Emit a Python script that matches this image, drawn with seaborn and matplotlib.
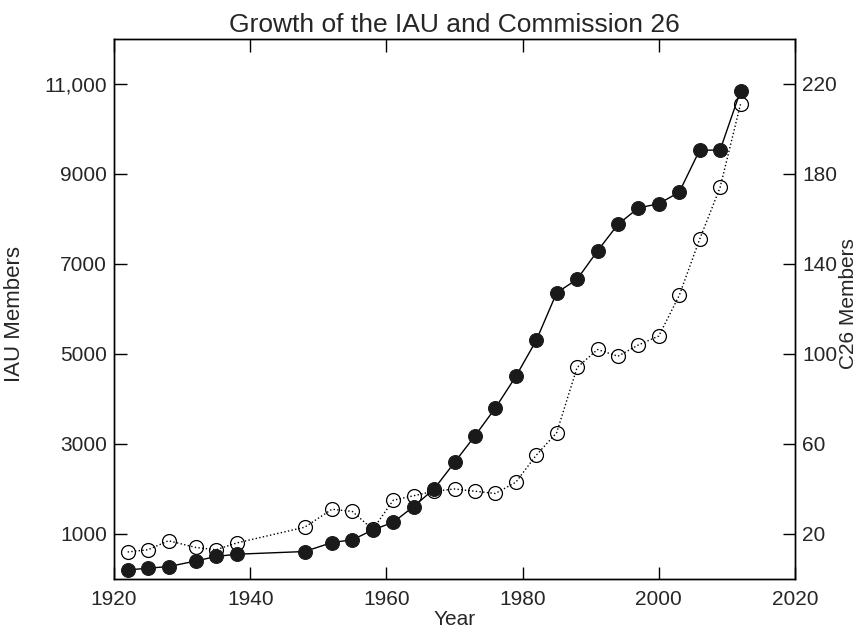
import matplotlib

matplotlib.use("Agg")
import matplotlib.pyplot as plt
import seaborn as sns

# IAU General Assembly years
years = [1922, 1925, 1928, 1932, 1935, 1938, 1948, 1952, 1955, 1958,
         1961, 1964, 1967, 1970, 1973, 1976, 1979, 1982, 1985, 1988,
         1991, 1994, 1997, 2000, 2003, 2006, 2009, 2012]

iau_members = [200, 240, 275, 400, 500, 550, 610, 810, 870, 1090,
               1260, 1610, 2000, 2590, 3180, 3800, 4500, 5300, 6360, 6660,
               7290, 7880, 8245, 8340, 8595, 9530, 9530, 10845]

c26_members = [12, 13, 17, 14, 13, 16, 23, 31, 30, 22,
               35, 37, 39, 40, 39, 38, 43, 55, 65, 94,
               102, 99, 104, 108, 126, 151, 174, 211]

left_ticks = [1000, 3000, 5000, 7000, 9000, 11000]
left_labels = ["1000", "3000", "5000", "7000", "9000", "11,000"]
right_ticks = [20, 60, 100, 140, 180, 220]
x_ticks = [1920, 1940, 1960, 1980, 2000, 2020]

sns.set_style("ticks")
plt.rcParams["font.family"] = ["Liberation Sans", "DejaVu Sans"]
plt.rcParams["axes.linewidth"] = 1.0

fig = plt.figure(figsize=(8.6, 6.32), dpi=100)
ax = fig.add_axes([0.1326, 0.0839, 0.7918, 0.8544])
ax2 = ax.twinx()

# C26 members: open circles, dotted line (right axis)
sns.lineplot(x=years, y=c26_members, ax=ax2, color="k", linestyle=":",
             linewidth=1.0, marker="o", markersize=10,
             markerfacecolor="none", markeredgecolor="k",
             markeredgewidth=0.9)

# IAU members: filled circles, solid line (left axis)
sns.lineplot(x=years, y=iau_members, ax=ax, color="k", linewidth=1.0,
             marker="o", markersize=10, markerfacecolor="#1a1a1a",
             markeredgecolor="#1a1a1a")

# keep the filled markers above the open ones
ax.set_zorder(ax2.get_zorder() + 1)
ax.patch.set_visible(False)

ax.set_xlim(1920, 2020)
ax.set_ylim(0, 12000)
ax2.set_ylim(0, 240)

ax.set_xticks(x_ticks)
ax.set_xticklabels([str(t) for t in x_ticks])
ax.set_yticks(left_ticks)
ax.set_yticklabels(left_labels)
ax2.set_yticks(right_ticks)
ax2.set_yticklabels([str(t) for t in right_ticks])

ax.tick_params(axis="both", direction="in", length=9, width=1,
               labelsize=15, top=True, right=False, pad=8, color="k")
ax.tick_params(axis="y", pad=5)
ax2.tick_params(axis="y", direction="in", length=9, width=1,
                labelsize=15, pad=5, color="k")

for a in (ax, ax2):
    for s in a.spines.values():
        s.set_visible(True)
        s.set_color("k")

ax.set_xlabel("Year", fontsize=15)
ax.xaxis.set_label_coords(0.5, -0.058)
ax.set_ylabel("IAU Members", fontsize=16)
ax.yaxis.set_label_coords(-0.131, 0.49)
ax2.set_ylabel("C26 Members", fontsize=15)
ax2.yaxis.set_label_coords(1.065, 0.51)
ax.set_title("Growth of the IAU and Commission 26", fontsize=19, pad=5)

fig.savefig("out.png", dpi=100)
